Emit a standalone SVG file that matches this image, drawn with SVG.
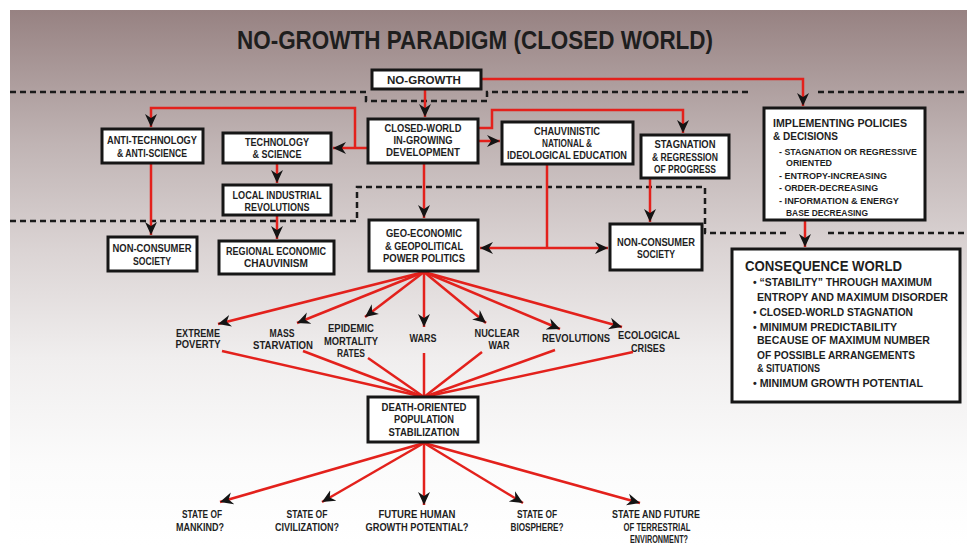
<svg xmlns="http://www.w3.org/2000/svg" width="975" height="545" viewBox="0 0 975 545">
<defs>
<linearGradient id="bg" x1="0" y1="0" x2="0" y2="1">
<stop offset="0" stop-color="#978282"/>
<stop offset="0.25" stop-color="#c0b4b4"/>
<stop offset="0.45" stop-color="#dbd4d4"/>
<stop offset="0.65" stop-color="#f0eeee"/>
<stop offset="0.85" stop-color="#fbfbfb"/>
<stop offset="1" stop-color="#ffffff"/>
</linearGradient>
<marker id="ah" markerUnits="userSpaceOnUse" markerWidth="14" markerHeight="14" refX="13" refY="6.5" orient="auto">
<path d="M0,0.5 L13,6.5 L0,12.5 L4,6.5 Z" fill="#141414"/>
</marker>
<style>
.box{fill:#fff;stroke:#161616;stroke-width:3}
.t{font-family:"Liberation Sans Narrow","Liberation Sans",Arial,sans-serif;font-weight:700;font-size:10px;fill:#1e1e1e;text-anchor:middle}
.l{text-anchor:start}
.c{fill:none;stroke:#e3211c;stroke-width:2.5}
.d{fill:none;stroke:#1a1a1a;stroke-width:2.5;stroke-dasharray:6 4}
</style>
</defs>
<rect x="0" y="0" width="975" height="545" fill="#ffffff"/>
<rect x="10" y="10" width="957" height="535" fill="url(#bg)"/>
<text class="t" x="475" y="49" textLength="476" lengthAdjust="spacingAndGlyphs" style="font-size:25px">NO-GROWTH PARADIGM (CLOSED WORLD)</text>
<g id="boundaries">
<path class="d" d="M10,92 H366 V101 H487 V92 H748"/>
<path class="d" d="M818,92 H965"/>
<path class="d" d="M10,221 H357 V187 H705 V233 H788"/>
<path class="d" d="M828,233 H965"/>
</g>
<g id="connectors">
<path class="c" d="M481,79 H803 V106" marker-end="url(#ah)"/>
<path class="c" d="M425,89 V117" marker-end="url(#ah)"/>
<path class="c" d="M368,148 H333" marker-end="url(#ah)"/>
<path class="c" d="M355,148 V108 H151 V127" marker-end="url(#ah)"/>
<path class="c" d="M478,141 H500" marker-end="url(#ah)"/>
<path class="c" d="M478,128 H492 V110 H683 V133" marker-end="url(#ah)"/>
<path class="c" d="M424,163 V218" marker-end="url(#ah)"/>
<path class="c" d="M151,163 V235" marker-end="url(#ah)"/>
<path class="c" d="M277,163 V183" marker-end="url(#ah)"/>
<path class="c" d="M277,215 V239" marker-end="url(#ah)"/>
<path class="c" d="M547,164 V248"/>
<path class="c" d="M547,248 H480" marker-end="url(#ah)"/>
<path class="c" d="M547,248 H608" marker-end="url(#ah)"/>
<path class="c" d="M650,178 V222" marker-end="url(#ah)"/>
<path class="c" d="M805,220 V247" marker-end="url(#ah)"/>
<path class="c" d="M424,272 L218,324" marker-end="url(#ah)"/>
<path class="c" d="M424,272 L297,323" marker-end="url(#ah)"/>
<path class="c" d="M424,272 L365,317" marker-end="url(#ah)"/>
<path class="c" d="M424,272 V327" marker-end="url(#ah)"/>
<path class="c" d="M424,272 L486,323" marker-end="url(#ah)"/>
<path class="c" d="M424,272 L560,329" marker-end="url(#ah)"/>
<path class="c" d="M424,272 L622,327" marker-end="url(#ah)"/>
<path class="c" d="M222,351 L424,397"/>
<path class="c" d="M303,351 L424,397"/>
<path class="c" d="M368,358 L424,397"/>
<path class="c" d="M424,353 V397"/>
<path class="c" d="M482,352 L424,397"/>
<path class="c" d="M555,350 L424,397"/>
<path class="c" d="M633,352 L424,397"/>
<path class="c" d="M424,443 L220,502" marker-end="url(#ah)"/>
<path class="c" d="M424,443 L322,502" marker-end="url(#ah)"/>
<path class="c" d="M424,443 V505" marker-end="url(#ah)"/>
<path class="c" d="M424,443 L523,503" marker-end="url(#ah)"/>
<path class="c" d="M424,443 L640,503" marker-end="url(#ah)"/>
</g>
<g id="no-growth">
<rect class="box" x="372" y="70" width="109" height="19"/>
<text class="t" x="424" y="83.5" textLength="74" lengthAdjust="spacingAndGlyphs">NO-GROWTH</text>
</g>
<g id="closed-world">
<rect class="box" x="368" y="119" width="110" height="44"/>
<text class="t" x="423" y="131.5" textLength="77" lengthAdjust="spacingAndGlyphs">CLOSED-WORLD</text>
<text class="t" x="423" y="144" textLength="59" lengthAdjust="spacingAndGlyphs">IN-GROWING</text>
<text class="t" x="423" y="156" textLength="74" lengthAdjust="spacingAndGlyphs">DEVELOPMENT</text>
</g>
<g id="anti-technology">
<rect class="box" x="102" y="129" width="101" height="34"/>
<text class="t" x="152" y="143.5" textLength="90" lengthAdjust="spacingAndGlyphs">ANTI-TECHNOLOGY</text>
<text class="t" x="152" y="156.5" textLength="70" lengthAdjust="spacingAndGlyphs">&amp; ANTI-SCIENCE</text>
</g>
<g id="technology">
<rect class="box" x="223" y="133" width="108" height="30"/>
<text class="t" x="277" y="145.5" textLength="64" lengthAdjust="spacingAndGlyphs">TECHNOLOGY</text>
<text class="t" x="277" y="157.5" textLength="49" lengthAdjust="spacingAndGlyphs">&amp; SCIENCE</text>
</g>
<g id="local-industrial">
<rect class="box" x="223" y="185" width="108" height="30"/>
<text class="t" x="277" y="198.5" textLength="89" lengthAdjust="spacingAndGlyphs">LOCAL INDUSTRIAL</text>
<text class="t" x="277" y="210.5" textLength="65" lengthAdjust="spacingAndGlyphs">REVOLUTIONS</text>
</g>
<g id="non-consumer-left">
<rect class="box" x="108" y="237" width="89" height="34"/>
<text class="t" x="152" y="251.5" textLength="79" lengthAdjust="spacingAndGlyphs">NON-CONSUMER</text>
<text class="t" x="152" y="264.5" textLength="38" lengthAdjust="spacingAndGlyphs">SOCIETY</text>
</g>
<g id="regional">
<rect class="box" x="219" y="241" width="115" height="33"/>
<text class="t" x="276" y="254.5" textLength="100" lengthAdjust="spacingAndGlyphs">REGIONAL ECONOMIC</text>
<text class="t" x="276" y="266.5" textLength="64" lengthAdjust="spacingAndGlyphs">CHAUVINISM</text>
</g>
<g id="geo">
<rect class="box" x="369" y="220" width="109" height="51"/>
<text class="t" x="424" y="236.5" textLength="76" lengthAdjust="spacingAndGlyphs">GEO-ECONOMIC</text>
<text class="t" x="424" y="249.5" textLength="78" lengthAdjust="spacingAndGlyphs">&amp; GEOPOLITICAL</text>
<text class="t" x="424" y="261.5" textLength="82" lengthAdjust="spacingAndGlyphs">POWER POLITICS</text>
</g>
<g id="chauvinistic">
<rect class="box" x="502" y="122" width="131" height="42"/>
<text class="t" x="567" y="134.5" textLength="66" lengthAdjust="spacingAndGlyphs">CHAUVINISTIC</text>
<text class="t" x="567" y="146.5" textLength="50" lengthAdjust="spacingAndGlyphs">NATIONAL &amp;</text>
<text class="t" x="567" y="158.5" textLength="120" lengthAdjust="spacingAndGlyphs">IDEOLOGICAL EDUCATION</text>
</g>
<g id="stagnation">
<rect class="box" x="641" y="135" width="88" height="43"/>
<text class="t" x="685" y="147.5" textLength="61" lengthAdjust="spacingAndGlyphs">STAGNATION</text>
<text class="t" x="685" y="160.5" textLength="66" lengthAdjust="spacingAndGlyphs">&amp; REGRESSION</text>
<text class="t" x="685" y="172.5" textLength="62" lengthAdjust="spacingAndGlyphs">OF PROGRESS</text>
</g>
<g id="non-consumer-right">
<rect class="box" x="610" y="224" width="92" height="46"/>
<text class="t" x="656" y="245.5" textLength="78" lengthAdjust="spacingAndGlyphs">NON-CONSUMER</text>
<text class="t" x="656" y="257.5" textLength="38" lengthAdjust="spacingAndGlyphs">SOCIETY</text>
</g>
<g id="implementing">
<rect class="box" x="764" y="108" width="161" height="112"/>
<text class="t l" x="773" y="127" style="font-size:11px" textLength="134" lengthAdjust="spacingAndGlyphs">IMPLEMENTING POLICIES</text>
<text class="t l" x="773" y="140" style="font-size:11px" textLength="65" lengthAdjust="spacingAndGlyphs">&amp; DECISIONS</text>
<text class="t l" x="779" y="154.5" style="font-size:9.5px" textLength="138" lengthAdjust="spacingAndGlyphs">- STAGNATION OR REGRESSIVE</text>
<text class="t l" x="786" y="165.5" style="font-size:9.5px" textLength="46" lengthAdjust="spacingAndGlyphs">ORIENTED</text>
<text class="t l" x="779" y="178.5" style="font-size:9.5px" textLength="108" lengthAdjust="spacingAndGlyphs">- ENTROPY-INCREASING</text>
<text class="t l" x="779" y="190.5" style="font-size:9.5px" textLength="99" lengthAdjust="spacingAndGlyphs">- ORDER-DECREASING</text>
<text class="t l" x="779" y="203.5" style="font-size:9.5px" textLength="120" lengthAdjust="spacingAndGlyphs">- INFORMATION &amp; ENERGY</text>
<text class="t l" x="786" y="216" style="font-size:9.5px" textLength="82" lengthAdjust="spacingAndGlyphs">BASE DECREASING</text>
</g>
<g id="consequence">
<rect class="box" x="732" y="249" width="228" height="153"/>
<text class="t l" x="745" y="271" style="font-size:14.5px" textLength="157" lengthAdjust="spacingAndGlyphs">CONSEQUENCE WORLD</text>
<text class="t l" x="753" y="286" style="font-size:11px" textLength="179" lengthAdjust="spacingAndGlyphs">• “STABILITY” THROUGH MAXIMUM</text>
<text class="t l" x="757" y="301" style="font-size:11px" textLength="191" lengthAdjust="spacingAndGlyphs">ENTROPY AND MAXIMUM DISORDER</text>
<text class="t l" x="753" y="316" style="font-size:11px" textLength="160" lengthAdjust="spacingAndGlyphs">• CLOSED-WORLD STAGNATION</text>
<text class="t l" x="753" y="331" style="font-size:11px" textLength="144" lengthAdjust="spacingAndGlyphs">• MINIMUM PREDICTABILITY</text>
<text class="t l" x="757" y="344" style="font-size:11px" textLength="173" lengthAdjust="spacingAndGlyphs">BECAUSE OF MAXIMUM NUMBER</text>
<text class="t l" x="757" y="359" style="font-size:11px" textLength="158" lengthAdjust="spacingAndGlyphs">OF POSSIBLE ARRANGEMENTS</text>
<text class="t l" x="757" y="372" style="font-size:11px" textLength="63" lengthAdjust="spacingAndGlyphs">&amp; SITUATIONS</text>
<text class="t l" x="753" y="387" style="font-size:11px" textLength="170" lengthAdjust="spacingAndGlyphs">• MINIMUM GROWTH POTENTIAL</text>
</g>
<g id="extreme-poverty">
<text class="t" x="198" y="336.5" textLength="44" lengthAdjust="spacingAndGlyphs">EXTREME</text>
<text class="t" x="198" y="348" textLength="45" lengthAdjust="spacingAndGlyphs">POVERTY</text>
</g>
<g id="mass-starvation">
<text class="t" x="282" y="336.5" textLength="25" lengthAdjust="spacingAndGlyphs">MASS</text>
<text class="t" x="283" y="348.5" textLength="60" lengthAdjust="spacingAndGlyphs">STARVATION</text>
</g>
<g id="epidemic">
<text class="t" x="351" y="331.5" textLength="46" lengthAdjust="spacingAndGlyphs">EPIDEMIC</text>
<text class="t" x="351" y="344.5" textLength="54" lengthAdjust="spacingAndGlyphs">MORTALITY</text>
<text class="t" x="351" y="356.5" textLength="28" lengthAdjust="spacingAndGlyphs">RATES</text>
</g>
<g id="wars">
<text class="t" x="423" y="341.5" textLength="27" lengthAdjust="spacingAndGlyphs">WARS</text>
</g>
<g id="nuclear-war">
<text class="t" x="497" y="336.5" textLength="45" lengthAdjust="spacingAndGlyphs">NUCLEAR</text>
<text class="t" x="499" y="348.5" textLength="21" lengthAdjust="spacingAndGlyphs">WAR</text>
</g>
<g id="revolutions">
<text class="t" x="576" y="341.5" textLength="68" lengthAdjust="spacingAndGlyphs">REVOLUTIONS</text>
</g>
<g id="ecological-crises">
<text class="t" x="649" y="338.5" textLength="62" lengthAdjust="spacingAndGlyphs">ECOLOGICAL</text>
<text class="t" x="648" y="351.5" textLength="34" lengthAdjust="spacingAndGlyphs">CRISES</text>
</g>
<g id="death-oriented">
<rect class="box" x="368" y="397" width="110" height="45"/>
<text class="t" x="424" y="410.5" textLength="85" lengthAdjust="spacingAndGlyphs">DEATH-ORIENTED</text>
<text class="t" x="424" y="422.5" textLength="60" lengthAdjust="spacingAndGlyphs">POPULATION</text>
<text class="t" x="424" y="435.5" textLength="71" lengthAdjust="spacingAndGlyphs">STABILIZATION</text>
</g>
<g id="state-mankind">
<text class="t" x="202" y="518" textLength="40" lengthAdjust="spacingAndGlyphs">STATE OF</text>
<text class="t" x="200" y="531" textLength="48" lengthAdjust="spacingAndGlyphs">MANKIND?</text>
</g>
<g id="state-civilization">
<text class="t" x="307" y="518" textLength="41" lengthAdjust="spacingAndGlyphs">STATE OF</text>
<text class="t" x="307" y="531" textLength="64" lengthAdjust="spacingAndGlyphs">CIVILIZATION?</text>
</g>
<g id="future-human">
<text class="t" x="417" y="518" textLength="77" lengthAdjust="spacingAndGlyphs">FUTURE HUMAN</text>
<text class="t" x="417" y="531" textLength="103" lengthAdjust="spacingAndGlyphs">GROWTH POTENTIAL?</text>
</g>
<g id="state-biosphere">
<text class="t" x="537" y="518" textLength="40" lengthAdjust="spacingAndGlyphs">STATE OF</text>
<text class="t" x="537" y="531" textLength="53" lengthAdjust="spacingAndGlyphs">BIOSPHERE?</text>
</g>
<g id="state-environment">
<text class="t" x="656" y="518" textLength="88" lengthAdjust="spacingAndGlyphs">STATE AND FUTURE</text>
<text class="t" x="657" y="531" textLength="67" lengthAdjust="spacingAndGlyphs">OF TERRESTRIAL</text>
<text class="t" x="659" y="543" textLength="58" lengthAdjust="spacingAndGlyphs">ENVIRONMENT?</text>
</g>
</svg>
